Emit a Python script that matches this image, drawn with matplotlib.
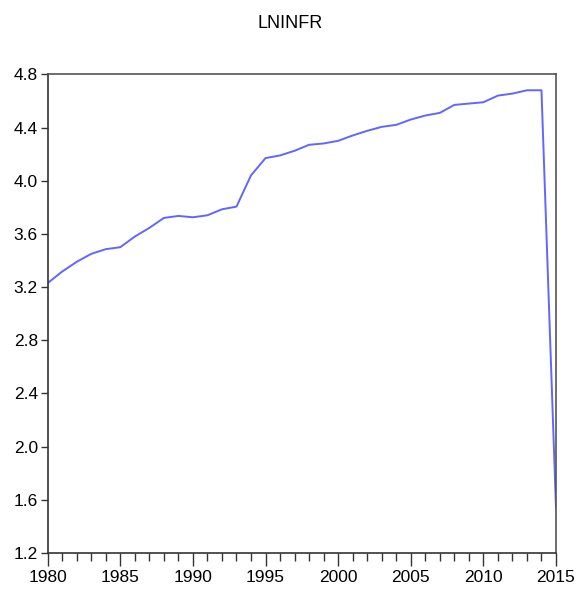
import matplotlib.pyplot as plt
from matplotlib.ticker import MultipleLocator

plt.rcParams['font.family'] = ['Liberation Sans Narrow', 'Liberation Sans', 'DejaVu Sans']

years = list(range(1980, 2016))
lninfr = [3.23, 3.317, 3.39, 3.45, 3.485, 3.50, 3.58, 3.645, 3.72, 3.735,
          3.725, 3.74, 3.785, 3.805, 4.04, 4.17, 4.19, 4.225, 4.27, 4.28,
          4.30, 4.34, 4.375, 4.405, 4.42, 4.46, 4.49, 4.51, 4.57, 4.58,
          4.59, 4.64, 4.655, 4.68, 4.68, 1.54]
yticks = [1.2, 1.6, 2.0, 2.4, 2.8, 3.2, 3.6, 4.0, 4.4, 4.8]
xticks = [1980, 1985, 1990, 1995, 2000, 2005, 2010, 2015]

fig = plt.figure(figsize=(5.8, 5.96), dpi=100)
ax = fig.add_axes([0.0822, 0.0721, 0.8764, 0.8032])
ax.plot(years, lninfr, color='#6464ff', lw=1.4)

ax.set_xlim(1980, 2015)
ax.set_ylim(1.2, 4.8)
ax.set_yticks(yticks)
ax.set_yticklabels([f'{v:.1f}' for v in yticks])
ax.set_xticks(xticks)
ax.xaxis.set_minor_locator(MultipleLocator(1))
ax.tick_params(axis='y', which='major', direction='out', length=5, width=1,
               labelsize=12.5, color='#333333', pad=2)
ax.tick_params(axis='x', which='major', direction='out', length=9, width=1,
               labelsize=12.5, color='#333333', pad=3)
ax.tick_params(axis='x', which='minor', direction='out', length=6, width=1, color='#333333')
ax.tick_params(axis='y', which='minor', left=False)

for s in ['left', 'bottom']:
    ax.spines[s].set_color('#333333')
    ax.spines[s].set_linewidth(1.2)
for s in ['top', 'right']:
    ax.spines[s].set_color('#555555')
    ax.spines[s].set_linewidth(1.2)

fig.text(0.5, 0.96, 'LNINFR', ha='center', va='center', fontsize=13)

fig.savefig('out.png', dpi=100)
